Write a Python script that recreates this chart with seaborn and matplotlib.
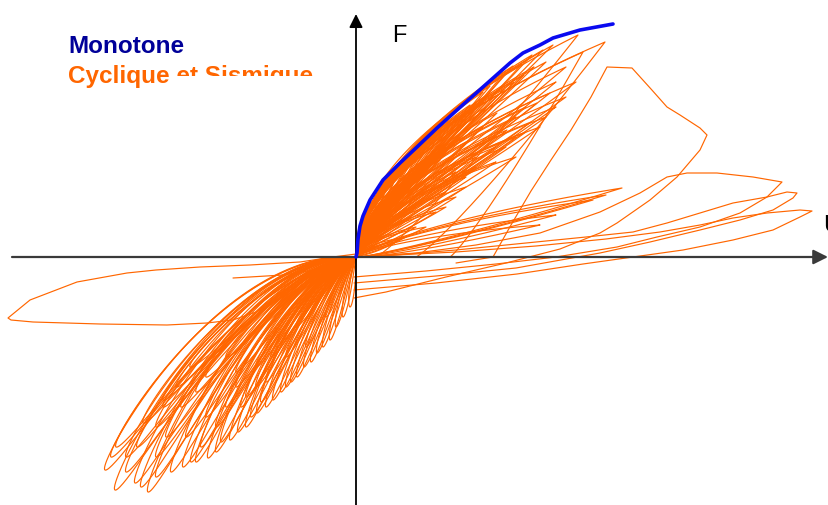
import numpy as np
import pandas as pd
import matplotlib
matplotlib.use("Agg")
import matplotlib.pyplot as plt
from matplotlib.patches import Rectangle
import seaborn as sns

sns.set_theme(style="white")
plt.rcParams["font.family"] = ["Liberation Sans", "DejaVu Sans"]

ORANGE = "#FF6600"
BLUE = "#0A0AF0"
NAVY = "#000099"

# ---- monotone (envelope) curve, displacement U / force F ----
mono_u = [0, 1, 2, 4, 7, 14, 27, 44, 61, 81, 101, 127, 154, 167, 184, 197, 224, 257]
mono_f = [0, 4, 18, 31, 41, 57, 77, 94, 110, 129, 147, 170, 194, 204, 212, 219, 227, 233]

# ---- cyclic response: peaks of the positive cycles ----
pos_peak_u = [7, 15, 24, 34, 44, 56, 64, 76, 85, 94, 101, 114, 127, 134, 145, 151, 157, 166, 176, 187, 197,
              20, 30, 40, 44, 50, 60, 64, 70, 84, 90, 100, 104, 110, 114, 120, 127, 130, 134, 140, 141,
              151, 160, 170, 181, 184, 194,
              10, 18, 28, 38, 48, 58, 68, 78, 88, 98, 108, 118, 128, 138, 148, 158, 168, 178,
              60, 80, 100, 120, 140, 160, 175, 200, 210, 190,
              90, 110, 120, 140, 150, 160, 170, 190, 200, 210, 220,
              40, 50, 60, 70, 80, 90, 100, 110, 30, 55]
pos_peak_f = [40, 55, 67, 80, 90, 102, 110, 120, 128, 136, 141, 152, 165, 171, 180, 185, 191, 193, 202, 207, 212,
              35, 50, 40, 57, 70, 60, 77, 90, 97, 110, 100, 120, 135, 117, 140, 130, 150, 164, 120, 144,
              127, 140, 150, 154, 130, 164,
              30, 45, 62, 75, 85, 95, 105, 112, 122, 130, 138, 146, 155, 160, 168, 175, 182, 190,
              50, 70, 85, 100, 110, 120, 135, 175, 190, 195,
              65, 80, 90, 95, 110, 100, 125, 140, 150, 160, 175,
              15, 20, 30, 30, 45, 50, 60, 70, 22, 40]

# ---- peaks of the negative cycles ----
neg_peak_u = [-251, -241, -221, -208, -219, -193, -173, -160, -148, -140, -126, -110, -99, -90, -83, -70,
              -59, -45, -39, -26, -13, -6,
              -213, -193, -180, -166, -150, -130, -120, -100, -80, -60, -190, -200, -150, -130, -230,
              -170, -110, -140, -90, -50, -30, -70,
              -245, -230, -215, -200, -185, -165, -155, -135, -118, -105, -95, -75, -65, -52, -33, -20,
              -200, -175, -160, -120, -85, -240, -100, -115]
neg_peak_f = [-213, -233, -226, -235, -190, -150, -210, -205, -201, -195, -183, -170, -156, -150, -143, -130,
              -120, -105, -96, -83, -60, -50,
              -166, -143, -130, -110, -120, -100, -130, -110, -90, -70, -180, -200, -160, -150, -200,
              -180, -140, -170, -125, -90, -60, -100,
              -200, -215, -230, -220, -215, -205, -190, -185, -175, -160, -145, -135, -125, -110, -90, -70,
              -170, -150, -135, -115, -100, -190, -130, -150]

# ---- large positive cycles: peak and residual displacement ----
big_peak_u = [222, 227, 249]
big_peak_f = [222, 205, 215]
big_resid_u = [20, 94, 60]

# ---- small pinched cycles near the U axis ----
pinch_peak_u = [266, 237, 250, 200, 184]
pinch_peak_f = [69, 57, 62, 42, 32]

# ---- strength-degrading cycle ----
degr_u = [100, 137, 155, 175, 195, 215, 235, 251, 276, 295, 311, 324, 344, 351, 344, 321, 294, 261, 244, 204,
          150, 90, 30, -2]
degr_f = [-6, 0, 32, 66, 97, 127, 160, 190, 189, 168, 150, 142, 129, 122, 107, 80, 57, 34, 24, 8,
          -6, -20, -35, -41]

# ---- large pinched cycles at high displacement ----
pinch1_u = [-2, 70, 140, 200, 261, 301, 344, 384, 411, 421, 426, 397, 361, 331, 311, 284, 244, 184, 120, 60, 0]
pinch1_f = [-20, -14, -7, 0, 10, 20, 30, 44, 60, 70, 75, 80, 84, 84, 80, 64, 45, 24, 12, 4, 0]
pinch2_u = [-2, 80, 160, 244, 294, 344, 384, 417, 437, 441, 431, 411, 377, 344, 311, 277, 230, 170, 100, 40, 0]
pinch2_f = [-26, -19, -11, 4, 15, 27, 37, 47, 59, 64, 65, 60, 54, 44, 34, 25, 20, 14, 7, 2, 0]
pinch3_u = [-2, 80, 161, 227, 277, 327, 377, 417, 444, 456, 444, 411, 377, 344, 304, 250, 180, 100, 40, 0]
pinch3_f = [-33, -26, -17, -7, 0, 7, 17, 27, 40, 46, 47, 44, 39, 32, 25, 18, 11, 5, 2, 0]

# ---- long negative excursion ----
longneg_u = [0, -23, -56, -106, -156, -200, -229, -279, -326, -348, -345, -323, -256, -189, -149, -123,
             -100, -73, -45, -23, 0]
longneg_f = [3, 0, -5, -8, -10, -13, -16, -25, -43, -61, -63, -65, -67, -68, -66, -63, -55, -40, -25, -13, 0]
branch_u = [-123, -73, -23, 0]
branch_f = [-21, -18, -10, -4]


def leaf(tu, tf, power, rounded, width, upper_share):
    """Hysteresis loop leaving the origin and turning at the peak (tu, tf)."""
    if rounded:
        t = np.sin(np.linspace(0, np.pi / 2, 120))
        prof = t * np.sqrt(np.clip(1 - t, 0, None))
    else:
        t = np.linspace(0, 1, 120)
        prof = t ** 0.6 * (1 - t)
    cu, cf = tu * t, tf * t ** power
    du, df = np.gradient(cu), np.gradient(cf)
    n = np.hypot(du, df)
    n[n == 0] = 1
    nu, nf = -df / n, du / n
    half = 1.2 + width * np.hypot(tu, tf)
    prof = half * prof / prof.max()
    a, b = prof * upper_share, prof * (2 - upper_share)
    u = np.r_[cu + a * nu, (cu - b * nu)[::-1]]
    f = np.r_[cf + a * nf, (cf - b * nf)[::-1]]
    return u, f


def big_loop(tu, tf, res):
    t = np.linspace(0, 1, 90)
    return (np.r_[tu * t, tu + (res - tu) * t],
            np.r_[tf * t ** 0.5, tf * (1 - t) ** 1.15])


paths = []
for u, f in zip(pos_peak_u, pos_peak_f):
    # unloading side bulges towards larger displacement
    paths.append(leaf(u, f, 0.6, False, 0.035, 0.45))
for u, f in zip(neg_peak_u, neg_peak_f):
    reach = min(np.hypot(u, f) / 330.0, 1.0)
    paths.append(leaf(u, f, 1.1 + 0.75 * reach, True, 0.028, 1.0))
for u, f, r in zip(big_peak_u, big_peak_f, big_resid_u):
    paths.append(big_loop(u, f, r))
for u, f in zip(pinch_peak_u, pinch_peak_f):
    paths.append(leaf(u, f, 0.9, False, 0.02, 1.0))
for u, f in [(degr_u, degr_f), (pinch1_u, pinch1_f), (pinch2_u, pinch2_f),
             (pinch3_u, pinch3_f), (longneg_u, longneg_f), (branch_u, branch_f)]:
    paths.append((np.asarray(u, float), np.asarray(f, float)))

cyc = pd.concat(
    [pd.DataFrame({"U": u, "F": f, "loop": i, "order": np.arange(len(u))})
     for i, (u, f) in enumerate(paths)],
    ignore_index=True)
mono = pd.DataFrame({"U": mono_u, "F": mono_f})

fig = plt.figure(figsize=(8.29, 5.05), dpi=100)
ax = fig.add_axes([0, 0, 1, 1])
ax.set_xlim(-356, 473)
ax.set_ylim(-248, 257)
ax.set_axis_off()

sns.lineplot(data=cyc, x="U", y="F", units="loop", estimator=None, sort=False,
             color=ORANGE, lw=0.85, ax=ax, legend=False, zorder=2)

# axes with arrow heads
ax.annotate("", xy=(472, 0), xytext=(-344, 0),
            arrowprops=dict(arrowstyle="-|>", color="#3a3a3a", lw=1.6,
                            mutation_scale=22, shrinkA=0, shrinkB=0), zorder=4)
ax.annotate("", xy=(0, 243), xytext=(0, -250),
            arrowprops=dict(arrowstyle="-|>", color="black", lw=1.3,
                            mutation_scale=20, shrinkA=0, shrinkB=0), zorder=4)

sns.lineplot(data=mono, x="U", y="F", sort=False, color=BLUE, lw=2.6, ax=ax,
             legend=False, zorder=5)

ax.text(36, 215, "F", fontsize=17, color="black", va="baseline", ha="left")
ax.text(467, 25, "U", fontsize=17, color="black", va="baseline", ha="left")
ax.text(-288, 204, "Monotone", fontsize=17.5, fontweight="bold", color=NAVY,
        va="baseline", ha="left")
ax.text(-288, 174, "Cyclique et Sismique", fontsize=17.5, fontweight="bold",
        color=ORANGE, va="baseline", ha="left", zorder=3)
# text frame covering part of the second legend line
ax.add_patch(Rectangle((-183, 160), 180, 21, facecolor="white", edgecolor="none", zorder=6))
ax.add_patch(Rectangle((-40, 160), 37, 45, facecolor="white", edgecolor="none", zorder=6))

fig.savefig("out.png", dpi=100)
